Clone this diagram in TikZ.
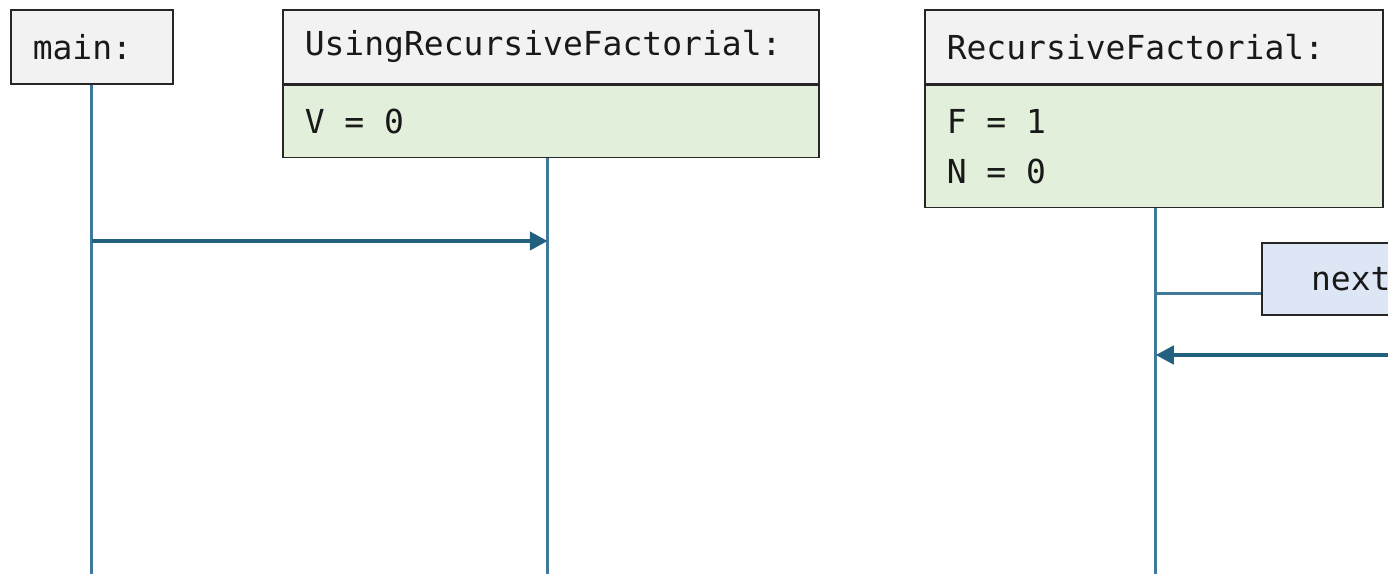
\documentclass[tikz,border=0pt]{standalone}
\usepackage{fontspec}
\usepackage{xcolor}
\usetikzlibrary{arrows.meta}
\setmonofont{DejaVu Sans Mono}
\definecolor{lifecol}{HTML}{41799B}
\definecolor{msgcol}{HTML}{22607F}
\definecolor{headcol}{HTML}{F2F2F2}
\definecolor{varcol}{HTML}{E2EFDA}
\definecolor{callcol}{HTML}{DCE6F4}

\begin{document}
\begin{tikzpicture}[x=0.5pt,y=-0.5pt,
		boxframe/.style={draw=black!85,line width=0.75pt,anchor=north west,inner xsep=11pt,inner ysep=0pt,font=\ttfamily\fontsize{16.5}{25}\selectfont,text=black!90,
			execute at begin node={\spaceskip=0.602em\relax\xspaceskip=0.602em\relax}},
		headbox/.style={boxframe,fill=headcol,minimum height=37pt},
		varbox/.style={boxframe,fill=varcol},
		lifeline/.style={draw=lifecol,line width=1.5pt},
		message/.style={draw=msgcol,line width=2.2pt,-{Triangle[length=9pt,width=9pt]}}]
				\useasboundingbox (0,0) rectangle (1388,574);
				\clip (0,0) rectangle (1388,574);
				\coordinate (bot) at (0,574);%bottom of the lifelines
				\coordinate (m1) at (0,241);%main calls
				\coordinate (ret) at (1420,355);%return into RecursiveFactorial

				\node[headbox,text width=59pt] (main) at (10,9) {main:};
				\node[headbox,text width=246pt] (urf) at (282,9) {UsingRecursiveFactorial:};
				\node[varbox,text width=246pt,minimum height=36pt] (urfvars) at (urf.south west) {V = 0};
				\node[headbox,text width=207pt] (rf) at (924,9) {RecursiveFactorial:};
				\node[varbox,text width=207pt,minimum height=61pt] (rfvars) at (rf.south west) {F = 1\\N = 0};
				\node[boxframe,fill=callcol,minimum width=89pt,minimum height=36pt] (next) at (1261,242) {next};
				\coordinate (nx) at ([yshift=-7.5pt]next.west);

				\draw[lifeline] (main.south) -- (main.south |- bot);
				\draw[lifeline] ([xshift=-1.5pt]urfvars.south) -- ([xshift=-1.5pt]urfvars.south |- bot);
				\draw[lifeline] ([xshift=1pt]rfvars.south) -- ([xshift=1pt]rfvars.south |- bot);
				\draw[lifeline] (nx -| rfvars.south) -- (nx);

				\draw[message] (main.south |- m1) -- ([xshift=-1.5pt]urfvars.south |- m1);
				\draw[message] (ret) -- ([xshift=1pt]ret -| rfvars.south);
			\end{tikzpicture}
\end{document}
